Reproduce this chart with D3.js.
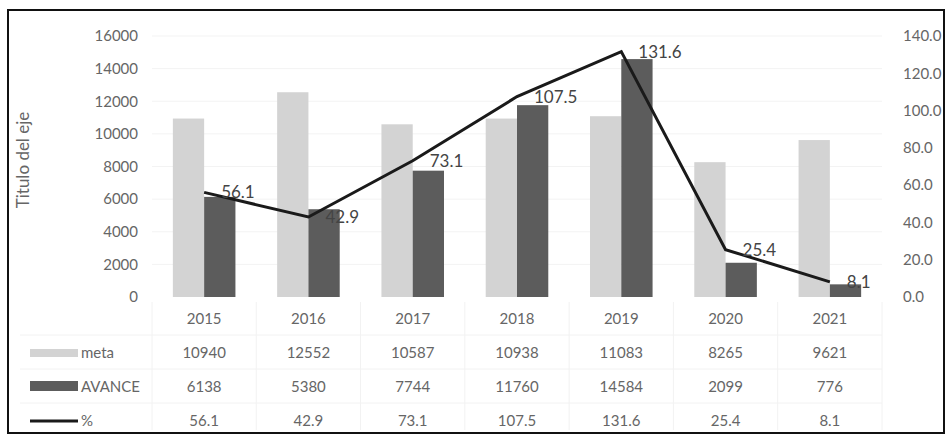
<!DOCTYPE html>
<html>
<head>
<meta charset="utf-8">
<script src="https://cdn.jsdelivr.net/npm/d3@7"></script>
<style>
  body { margin: 0; background: #fff; }
  svg { font-family: Lato, "Open Sans", sans-serif; }
</style>
</head>
<body>
<div id="chart-area"></div>
<script>
const years = ["2015", "2016", "2017", "2018", "2019", "2020", "2021"];
const meta = [10940, 12552, 10587, 10938, 11083, 8265, 9621];
const avance = [6138, 5380, 7744, 11760, 14584, 2099, 776];
const pct = [56.1, 42.9, 73.1, 107.5, 131.6, 25.4, 8.1];
const leftTicks = [0, 2000, 4000, 6000, 8000, 10000, 12000, 14000, 16000];
const rightTicks = [0, 20, 40, 60, 80, 100, 120, 140];

const width = 950, height = 440;
const plot = { left: 152, right: 882, top: 36, bottom: 297 };
const textColor = "#666";
const metaColor = "#d3d3d3";
const avanceColor = "#5c5c5c";

const svg = d3
    .select("#chart-area")
    .append("svg")
    .attr("width", width)
    .attr("height", height);

// outer frame
svg.append("rect")
    .attr("x", 8).attr("y", 10)
    .attr("width", 936).attr("height", 423)
    .attr("fill", "none")
    .attr("stroke", "#111")
    .attr("stroke-width", 2);

const x = d3.scaleBand()
    .domain(years)
    .range([plot.left, plot.right])
    .paddingInner(0.4)
    .paddingOuter(0.2);

const x1 = d3.scaleBand()
    .domain(["meta", "avance"])
    .range([0, x.bandwidth()]);

const y = d3.scaleLinear().domain([0, 16000]).range([plot.bottom, plot.top]);
const y2 = d3.scaleLinear().domain([0, 140]).range([plot.bottom, plot.top]);

// gridlines (very faint in the scan)
svg.append("g")
    .selectAll("line")
    .data(leftTicks.slice(1))
    .join("line")
    .attr("x1", plot.left).attr("x2", plot.right)
    .attr("y1", d => y(d)).attr("y2", d => y(d))
    .attr("stroke", "#f3f3f3");

// left axis
const yAxis = svg.append("g")
    .attr("transform", `translate(${plot.left - 6},0)`)
    .call(d3.axisLeft(y).tickValues(leftTicks).tickSize(0).tickPadding(8).tickFormat(d3.format("d")));
yAxis.select(".domain").remove();
yAxis.selectAll("text").attr("font-size", "15px").attr("fill", textColor).attr("font-family", "Lato, sans-serif");

// right axis
const y2Axis = svg.append("g")
    .attr("transform", `translate(${plot.right + 15},0)`)
    .call(d3.axisRight(y2).tickValues(rightTicks).tickSize(0).tickPadding(6).tickFormat(d3.format(".1f")));
y2Axis.select(".domain").remove();
y2Axis.selectAll("text").attr("font-size", "15px").attr("fill", textColor).attr("font-family", "Lato, sans-serif");

// y axis title
svg.append("text")
    .attr("transform", "rotate(-90)")
    .attr("x", -160)
    .attr("y", 29)
    .attr("text-anchor", "middle")
    .attr("font-size", "17px")
    .attr("fill", textColor)
    .text("Titulo del eje");

// bars
const groups = svg.append("g")
    .selectAll("g")
    .data(years)
    .join("g")
    .attr("transform", d => `translate(${x(d)},0)`);

groups.append("rect")
    .attr("x", x1("meta"))
    .attr("width", x1.bandwidth())
    .attr("y", (d, i) => y(meta[i]))
    .attr("height", (d, i) => y(0) - y(meta[i]))
    .attr("fill", metaColor);

groups.append("rect")
    .attr("x", x1("avance"))
    .attr("width", x1.bandwidth())
    .attr("y", (d, i) => y(avance[i]))
    .attr("height", (d, i) => y(0) - y(avance[i]))
    .attr("fill", avanceColor);

// percentage line
const cx = d => x(d) + x.bandwidth() / 2;
const line = d3.line()
    .x(d => cx(d.year))
    .y(d => y2(d.value));
const lineData = years.map((yr, i) => ({ year: yr, value: pct[i] }));

svg.append("path")
    .attr("d", line(lineData))
    .attr("fill", "none")
    .attr("stroke", "#1a1a1a")
    .attr("stroke-width", 3);

svg.append("g")
    .selectAll("text")
    .data(lineData)
    .join("text")
    .attr("x", d => cx(d.year) + 17)
    .attr("y", d => y2(d.value) + 6)
    .attr("font-size", "17px")
    .attr("fill", "#444")
    .text(d => d3.format(".1f")(d.value));

// data table
const rowY = [318, 352, 386, 420];
const rows = [
    years,
    meta.map(d3.format("d")),
    avance.map(d3.format("d")),
    pct.map(d3.format(".1f"))
];

// table grid lines (barely visible in the scan)
const tableLines = svg.append("g").attr("stroke", "#f2f2f2");
[335, 369, 403].forEach(ly => {
    tableLines.append("line").attr("x1", 20).attr("x2", plot.right).attr("y1", ly).attr("y2", ly);
});
years.forEach(yr => {
    const bx = x(yr) - x.step() * x.paddingInner() / 2;
    tableLines.append("line").attr("x1", bx).attr("x2", bx).attr("y1", 302).attr("y2", 430);
});
tableLines.append("line").attr("x1", plot.right).attr("x2", plot.right).attr("y1", 302).attr("y2", 430);

rows.forEach((row, r) => {
    svg.append("g")
        .selectAll("text")
        .data(row)
        .join("text")
        .attr("x", (d, i) => cx(years[i]))
        .attr("y", rowY[r] + 6)
        .attr("text-anchor", "middle")
        .attr("font-size", "15px")
        .attr("fill", textColor)
        .text(d => d);
});

// legend keys in table
svg.append("rect").attr("x", 30).attr("y", 349).attr("width", 48).attr("height", 8).attr("fill", metaColor);
svg.append("rect").attr("x", 30).attr("y", 381).attr("width", 48).attr("height", 10).attr("fill", avanceColor);
svg.append("line").attr("x1", 30).attr("x2", 78).attr("y1", 421).attr("y2", 421)
    .attr("stroke", "#1a1a1a").attr("stroke-width", 3);

const legendLabels = ["meta", "AVANCE", "%"];
svg.append("g")
    .selectAll("text")
    .data(legendLabels)
    .join("text")
    .attr("x", 81)
    .attr("y", (d, i) => rowY[i + 1] + 6)
    .attr("font-size", "15px")
    .attr("fill", textColor)
    .text(d => d);
</script>
</body>
</html>
